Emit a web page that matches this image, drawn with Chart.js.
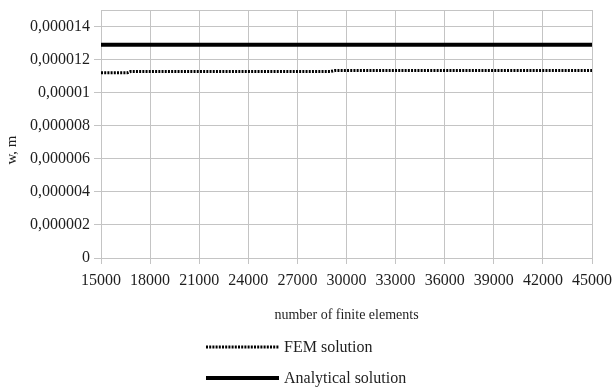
<!DOCTYPE html>
<html>
<head>
<meta charset="utf-8">
<script src="https://cdn.jsdelivr.net/npm/chart.js@4.4.1/dist/chart.umd.min.js"></script>
<style>
html,body{margin:0;padding:0;background:#fff;}
canvas{display:block;}
</style>
</head>
<body>
<canvas id="c" width="613" height="388"></canvas>
<script>
// ---- data ----
const elementCounts = [15000, 16600, 16800, 29000, 29300, 45000];
const femValues = [0.00001120, 0.00001120, 0.00001128, 0.00001128, 0.00001134, 0.00001134];
const analyticalValues = [0.0000129, 0.0000129, 0.0000129, 0.0000129, 0.0000129, 0.0000129];
const seriesNames = ['FEM solution', 'Analytical solution'];
const yTickValues = [0, 0.000002, 0.000004, 0.000006, 0.000008, 0.00001, 0.000012, 0.000014];
const xAxisTitle = 'number of finite elements';
const yAxisTitle = 'w, m';
const yMax = 0.000015;
const xMin = 15000, xMax = 45000, xStep = 3000;

const GRID = '#c4c4c4';
const TEXT = '#1e1e1e';
const SERIF = '"Liberation Serif", "DejaVu Serif", serif';

function fmtY(v) {
  if (v > yMax - 1e-7) return '';
  if (Math.abs(v) < 1e-12) return '0';
  let s = v.toFixed(6).replace(/0+$/, '').replace(/\.$/, '');
  return s.replace('.', ',');
}

const customLegend = {
  id: 'customLegend',
  afterDraw(chart) {
    const ctx = chart.ctx;
    ctx.save();
    ctx.fillStyle = TEXT;
    ctx.font = '15px ' + SERIF;
    ctx.textAlign = 'center';
    ctx.textBaseline = 'middle';
    ctx.translate(12, 150);
    ctx.rotate(-Math.PI / 2);
    ctx.fillText(yAxisTitle, 0, 0);
    ctx.restore();

    ctx.save();
    const rows = [347, 378];
    chart.data.datasets.forEach((ds, i) => {
      const y = rows[i];
      ctx.beginPath();
      ctx.strokeStyle = ds.borderColor;
      ctx.lineWidth = ds.borderWidth;
      ctx.setLineDash(ds.borderDash || []);
      ctx.moveTo(206, y);
      ctx.lineTo(279, y);
      ctx.stroke();
      ctx.setLineDash([]);
      ctx.fillStyle = TEXT;
      ctx.font = '16px ' + SERIF;
      ctx.textAlign = 'left';
      ctx.textBaseline = 'middle';
      ctx.fillText(ds.label, 284, y + 1);
    });
    ctx.restore();
  }
};

new Chart(document.getElementById('c'), {
  type: 'line',
  data: {
    datasets: [
      {
        label: seriesNames[0],
        data: elementCounts.map((x, i) => ({x: x, y: femValues[i]})),
        borderColor: '#000',
        borderWidth: 3,
        borderDash: [2, 1.2],
        pointRadius: 0,
        fill: false,
        tension: 0
      },
      {
        label: seriesNames[1],
        data: elementCounts.map((x, i) => ({x: x, y: analyticalValues[i]})),
        borderColor: '#000',
        borderWidth: 4,
        pointRadius: 0,
        fill: false,
        tension: 0
      }
    ]
  },
  options: {
    responsive: false,
    animation: false,
    devicePixelRatio: 1,
    layout: { padding: { left: 0, right: 21, top: 10, bottom: 62 } },
    plugins: {
      legend: { display: false },
      tooltip: { enabled: false }
    },
    scales: {
      x: {
        type: 'linear',
        min: xMin,
        max: xMax,
        afterFit(scale) { scale.height = 68; scale.paddingLeft = 0; scale.paddingRight = 0; },
        ticks: {
          stepSize: xStep,
          color: TEXT,
          font: { family: SERIF, size: 16 },
          padding: 7,
          maxRotation: 0,
          autoSkip: false,
          callback: v => String(v)
        },
        grid: { color: GRID, lineWidth: 1, tickLength: 6, tickColor: GRID },
        border: { color: GRID, width: 1 },
        title: {
          display: true,
          text: xAxisTitle,
          color: TEXT,
          font: { family: SERIF, size: 14 },
          padding: { top: 0, bottom: 2 }
        }
      },
      y: {
        min: 0,
        max: yMax,
        afterBuildTicks(scale) {
          scale.ticks = yTickValues.concat([yMax]).map(v => ({value: v}));
        },
        afterFit(scale) { scale.width = 101; scale.paddingTop = 0; scale.paddingBottom = 0; },
        ticks: {
          color: TEXT,
          font: { family: SERIF, size: 16 },
          padding: 4,
          autoSkip: false,
          callback: v => fmtY(v)
        },
        grid: {
          color: GRID,
          lineWidth: 1,
          tickLength: 7,
          tickColor: c => (c.tick && c.tick.value > yMax - 1e-7) ? 'rgba(0,0,0,0)' : GRID
        },
        border: { color: GRID, width: 1 }
      }
    }
  },
  plugins: [customLegend]
});
</script>
</body>
</html>
